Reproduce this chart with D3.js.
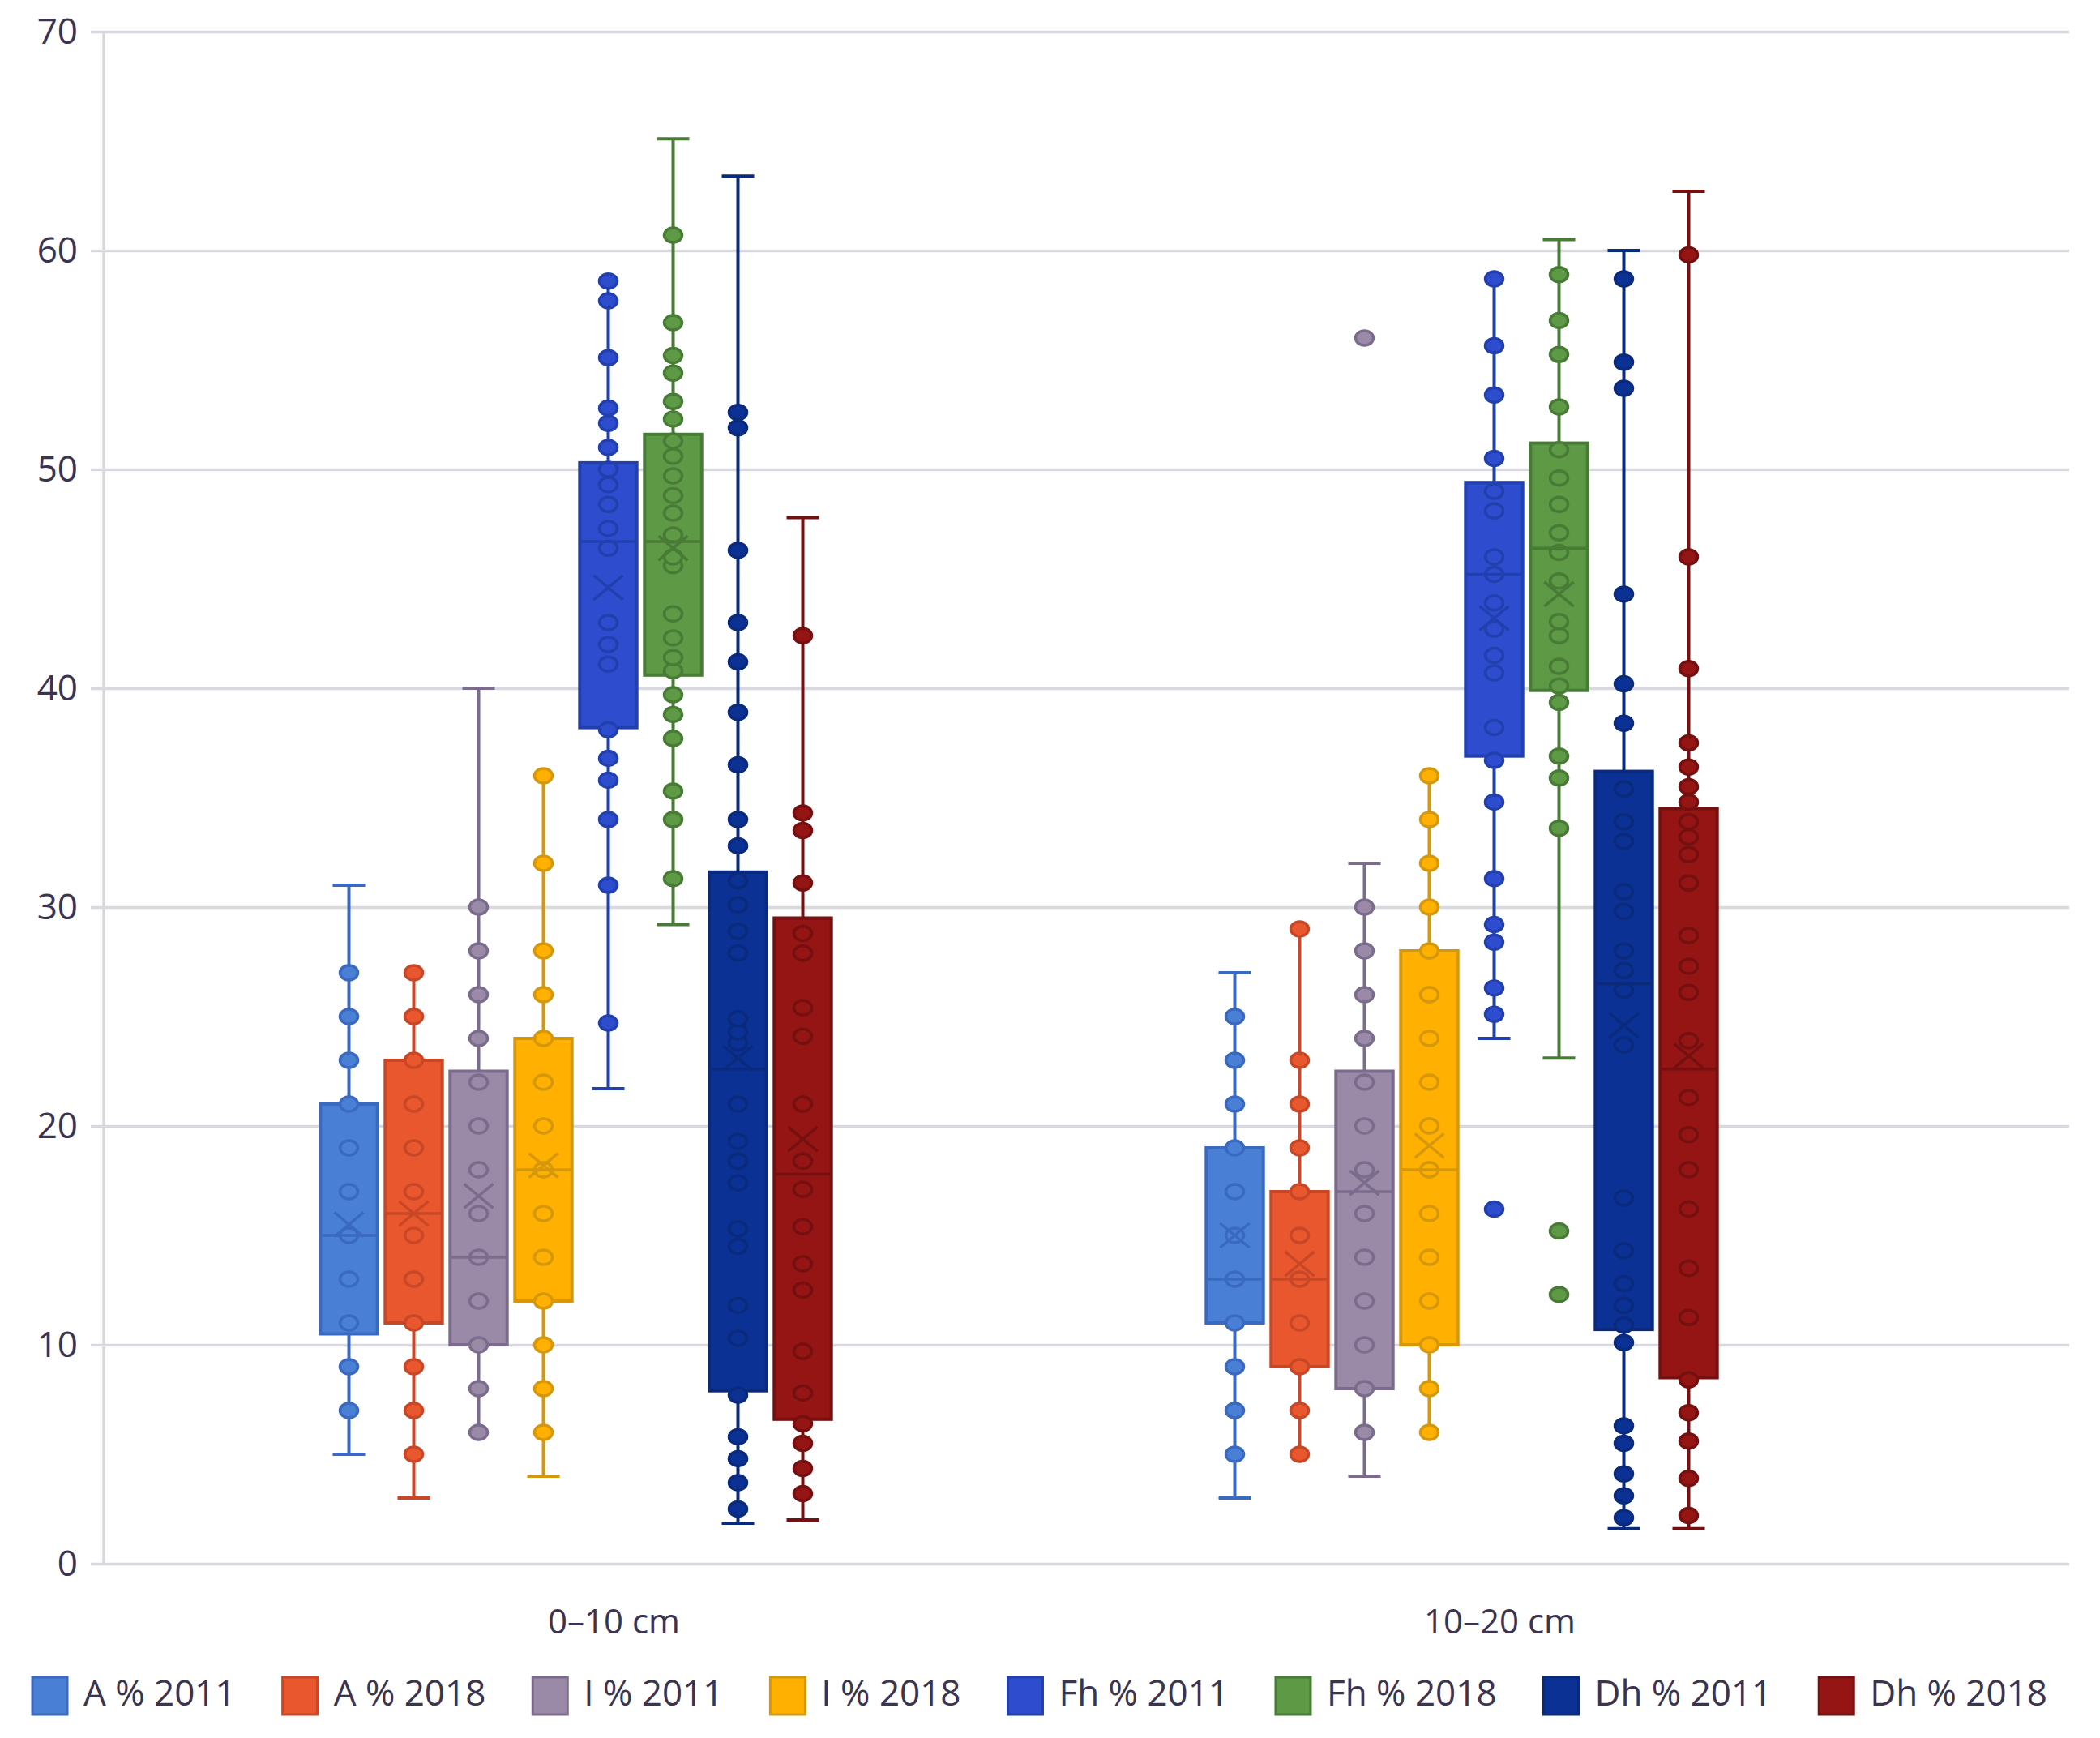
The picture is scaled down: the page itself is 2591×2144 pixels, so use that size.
<!DOCTYPE html>
<html><head><meta charset="utf-8">
<script src="https://cdn.jsdelivr.net/npm/d3@7"></script>
<style>html,body{margin:0;padding:0;background:#fff;} svg{display:block;}</style>
</head><body>
<svg id="chart" width="2591" height="2144"></svg>
<script>
// ---------- data ----------
const categories = ["0–10 cm", "10–20 cm"];
const seriesNames = ["A % 2011", "A % 2018", "I % 2011", "I % 2018", "Fh % 2011", "Fh % 2018", "Dh % 2011", "Dh % 2018"];
const yTicks = [0, 10, 20, 30, 40, 50, 60, 70];

// per series: [category 0–10, category 10–20]
const q1Values     = [[10.5, 11], [11, 9], [10, 8], [12, 10], [38.2, 36.9], [40.6, 39.9], [7.9, 10.7], [6.6, 8.5]];
const medianValues = [[15, 13], [16, 13], [14, 17], [18, 18], [46.7, 45.2], [46.7, 46.4], [22.6, 26.5], [17.8, 22.6]];
const q3Values     = [[21, 19], [23, 17], [22.5, 22.5], [24, 28], [50.3, 49.4], [51.6, 51.2], [31.6, 36.2], [29.5, 34.5]];
const meanValues   = [[15.5, 15], [16, 13.7], [16.8, 17.4], [18.2, 19.1], [44.6, 43.2], [46.4, 44.3], [23.1, 24.6], [19.4, 23.2]];
const minValues    = [[5, 3], [3, 5], [6, 4], [4, 6], [21.7, 24.0], [29.2, 23.1], [1.85, 1.6], [2.0, 1.6]];
const maxValues    = [[31, 27], [27, 29], [40, 32], [36, 36], [58.6, 58.7], [65.1, 60.5], [63.4, 60.0], [47.8, 62.7]];

const pointsA2011 = [[7, 9, 11, 13, 15, 17, 19, 21, 23, 25, 27], [5, 7, 9, 11, 13, 15, 17, 19, 21, 23, 25]];
const pointsA2018 = [[5, 7, 9, 11, 13, 15, 17, 19, 21, 23, 25, 27], [5, 7, 9, 11, 13, 15, 17, 19, 21, 23, 29]];
const pointsI2011 = [[6, 8, 10, 12, 14, 16, 18, 20, 22, 24, 26, 28, 30], [6, 8, 10, 12, 14, 16, 18, 20, 22, 24, 26, 28, 30, 56]];
const pointsI2018 = [[6, 8, 10, 12, 14, 16, 18, 20, 22, 24, 26, 28, 32, 36], [6, 8, 10, 12, 14, 16, 18, 20, 22, 24, 26, 28, 30, 32, 34, 36]];
const pointsFh2011 = [
  [24.7, 31.0, 34.0, 35.8, 36.8, 38.1, 41.1, 42.0, 43.0, 46.4, 47.3, 48.4, 49.3, 50.0, 51.0, 52.1, 52.8, 55.1, 57.7, 58.6],
  [16.2, 25.1, 26.3, 28.4, 29.2, 31.3, 34.8, 36.7, 38.2, 40.7, 41.5, 42.7, 43.9, 45.2, 46.0, 48.1, 49.0, 50.5, 53.4, 55.65, 58.7]];
const pointsFh2018 = [
  [31.3, 34.0, 35.3, 37.7, 38.8, 39.7, 40.8, 41.4, 42.3, 43.4, 45.6, 46.0, 47.0, 48.0, 48.8, 49.7, 50.6, 51.3, 52.3, 53.1, 54.4, 55.2, 56.7, 60.7],
  [12.3, 15.2, 33.6, 35.9, 36.9, 39.35, 40.1, 41.0, 42.4, 43.05, 44.9, 46.2, 47.1, 48.4, 49.6, 50.9, 52.85, 55.25, 56.8, 58.9]];
const pointsDh2011 = [
  [2.5, 3.7, 4.8, 5.8, 7.7, 10.3, 11.8, 14.5, 15.3, 17.4, 18.4, 19.3, 21.0, 23.8, 24.3, 24.9, 27.9, 28.9, 30.1, 31.2, 32.8, 34.0, 36.5, 38.9, 41.2, 43.0, 46.3, 51.9, 52.6],
  [2.1, 3.1, 4.1, 5.5, 6.3, 10.1, 10.9, 11.8, 12.8, 14.3, 16.7, 23.7, 26.2, 27.1, 28.0, 29.8, 30.7, 33.0, 33.9, 35.4, 38.4, 40.2, 44.3, 53.7, 54.9, 58.7]];
const pointsDh2018 = [
  [3.2, 4.35, 5.5, 6.4, 7.8, 9.7, 12.5, 13.7, 15.4, 17.1, 18.4, 21.0, 24.1, 25.4, 27.9, 28.8, 31.1, 33.5, 34.3, 42.4],
  [2.2, 3.9, 5.6, 6.9, 8.4, 11.25, 13.5, 16.2, 18.0, 19.6, 21.3, 23.9, 26.1, 27.3, 28.7, 31.1, 32.4, 33.2, 33.9, 34.8, 35.5, 36.4, 37.5, 40.9, 46.0, 59.8]];
const pointValues = [pointsA2011, pointsA2018, pointsI2011, pointsI2018, pointsFh2011, pointsFh2018, pointsDh2011, pointsDh2018];

// ---------- styles ----------
const fillColors   = ["#4a7fd6", "#e9572f", "#9a8aa8", "#ffb000", "#2e4cce", "#5e9945", "#0b3195", "#951515"];
const strokeColors = ["#3a6ac0", "#c84726", "#7b6c8e", "#d5980c", "#2140ae", "#487c36", "#0a2a7c", "#741010"];
const textColor = "#3b3450";
const gridColor = "#d9d8de";
const fontFamily = "'Open Sans', 'Noto Sans', sans-serif";

// ---------- layout ----------
const svg = d3.select("#chart");
const plotLeft = 128, plotRight = 2553, plotTop = 39, plotBottom = 1929;

const y = d3.scaleLinear().domain([0, 70]).range([plotBottom, plotTop]);
const x0 = d3.scaleBand().domain(categories).range([207, 2393]);
const x1 = d3.scaleBand().domain(seriesNames).range([-363, 277]).paddingInner(0.12).paddingOuter(0.06);

// gridlines
const gAxis = svg.append("g").attr("transform", `translate(${plotRight},0)`);
gAxis.call(d3.axisLeft(y).tickValues(yTicks).tickSize(plotRight - plotLeft + 16).tickFormat(""));
gAxis.select(".domain").remove();
gAxis.selectAll(".tick line").attr("stroke", gridColor).attr("stroke-width", 3.5);

// y tick labels
const gLabels = svg.append("g").attr("transform", `translate(${plotLeft - 16},0)`);
gLabels.call(d3.axisLeft(y).tickValues(yTicks).tickSize(0).tickPadding(16).tickFormat(d3.format("d")));
gLabels.select(".domain").remove();
gLabels.selectAll("text").attr("font-family", fontFamily).attr("font-size", 44).attr("fill", textColor);

// vertical axis line
svg.append("line").attr("x1", plotLeft).attr("x2", plotLeft).attr("y1", y(70)).attr("y2", y(0))
  .attr("stroke", gridColor).attr("stroke-width", 3.5);

// category labels
svg.append("g").selectAll("text").data(categories).join("text")
  .attr("x", d => x0(d) + x0.bandwidth() / 2 + 4)
  .attr("y", 2004)
  .attr("text-anchor", "middle").attr("dominant-baseline", "middle")
  .attr("font-family", fontFamily).attr("font-size", 42).attr("fill", textColor)
  .text(d => d);

// ---------- boxes ----------
const bw = x1.bandwidth();
const capW = 40;
const gBoxes = svg.append("g");
seriesNames.forEach((s, si) => {
  categories.forEach((c, ci) => {
    const cx = x0(c) + x0.bandwidth() / 2 + x1(s) + bw / 2;
    const g = gBoxes.append("g");
    const fc = fillColors[si], sc = strokeColors[si];
    const lo = minValues[si][ci], hi = maxValues[si][ci];
    const pts = pointValues[si][ci];
    // whisker
    g.append("line").attr("x1", cx).attr("x2", cx).attr("y1", y(lo)).attr("y2", y(hi))
      .attr("stroke", sc).attr("stroke-width", 4);
    // caps (hidden where a point sits at the whisker end)
    [lo, hi].forEach(v => {
      if (!pts.some(p => Math.abs(p - v) < 0.3)) {
        g.append("line").attr("x1", cx - capW / 2).attr("x2", cx + capW / 2).attr("y1", y(v)).attr("y2", y(v))
          .attr("stroke", sc).attr("stroke-width", 4);
      }
    });
    // box
    g.append("rect").attr("x", cx - bw / 2).attr("width", bw)
      .attr("y", y(q3Values[si][ci])).attr("height", y(q1Values[si][ci]) - y(q3Values[si][ci]))
      .attr("fill", fc).attr("stroke", sc).attr("stroke-width", 4);
    // points
    g.selectAll("ellipse").data(pts).join("ellipse")
      .attr("cx", cx).attr("cy", d => y(d)).attr("rx", 11).attr("ry", 9)
      .attr("fill", fc).attr("stroke", sc).attr("stroke-width", 3.5);
    // median
    g.append("line").attr("x1", cx - bw / 2).attr("x2", cx + bw / 2)
      .attr("y1", y(medianValues[si][ci])).attr("y2", y(medianValues[si][ci]))
      .attr("stroke", sc).attr("stroke-width", 3.5);
    // mean X
    const my = y(meanValues[si][ci]);
    const mx = 18, myy = 15;
    g.append("path").attr("d", `M${cx - mx},${my - myy}L${cx + mx},${my + myy}M${cx - mx},${my + myy}L${cx + mx},${my - myy}`)
      .attr("stroke", sc).attr("stroke-width", 3.5).attr("fill", "none");
  });
});

// ---------- legend ----------
const legend = svg.append("g");
const sw = 43, sh = 46, swGap = 20, legY = 2092;
const items = legend.selectAll("g").data(seriesNames).join("g");
items.append("rect").attr("x", 0).attr("y", legY - sh / 2).attr("width", sw).attr("height", sh)
  .attr("fill", (d, i) => fillColors[i]).attr("stroke", (d, i) => strokeColors[i]).attr("stroke-width", 3);
items.append("text").attr("x", sw + swGap).attr("y", legY).attr("dominant-baseline", "middle")
  .attr("font-family", fontFamily).attr("font-size", 44).attr("fill", textColor).text(d => d);
const widths = [];
items.each(function () { widths.push(this.getBBox().width); });
const legLeft = 40, legRight = 2526;
const gap = (legRight - legLeft - d3.sum(widths)) / (widths.length - 1);
let acc = legLeft;
items.attr("transform", (d, i) => { const t = `translate(${acc},0)`; acc += widths[i] + gap; return t; });
</script>
</body></html>
